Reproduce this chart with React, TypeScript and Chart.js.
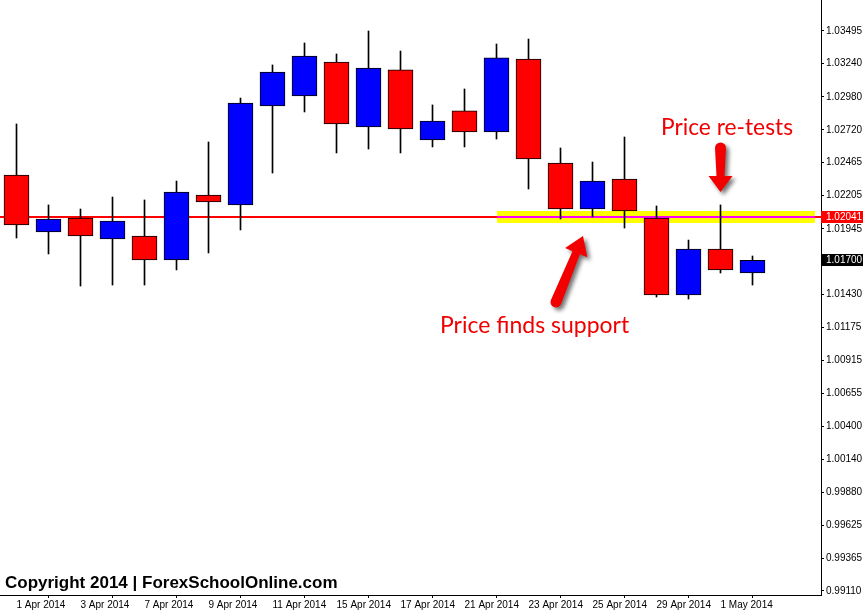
import { useEffect, useRef } from 'react';
import { Chart, registerables } from 'chart.js';

Chart.register(...registerables);

// ---- Data ----
const categories = [
  '1 Apr 2014', '2 Apr 2014', '3 Apr 2014', '4 Apr 2014', '7 Apr 2014', '8 Apr 2014',
  '9 Apr 2014', '10 Apr 2014', '11 Apr 2014', '14 Apr 2014', '15 Apr 2014', '16 Apr 2014',
  '17 Apr 2014', '18 Apr 2014', '21 Apr 2014', '22 Apr 2014', '23 Apr 2014', '24 Apr 2014',
  '25 Apr 2014', '28 Apr 2014', '29 Apr 2014', '30 Apr 2014', '1 May 2014', '2 May 2014',
];
const openPrices = [
  1.02367, 1.01921, 1.02031, 1.01866, 1.01890, 1.01702, 1.02211, 1.02133, 1.02908, 1.02986,
  1.03252, 1.02743, 1.03190, 1.02642, 1.02869, 1.02704, 1.03276, 1.02461, 1.02101, 1.02336,
  1.02031, 1.01428, 1.01788, 1.01600,
];
const highPrices = [
  1.02767, 1.02133, 1.02101, 1.02195, 1.02172, 1.02320, 1.02626, 1.02970, 1.03229, 1.03401,
  1.03315, 1.03495, 1.03338, 1.02916, 1.03041, 1.03393, 1.03432, 1.02579, 1.02469, 1.02665,
  1.02125, 1.01858, 1.02133, 1.01733,
];
const lowPrices = [
  1.01874, 1.01749, 1.01498, 1.01506, 1.01506, 1.01624, 1.01757, 1.01937, 1.02383, 1.02861,
  1.02540, 1.02571, 1.02540, 1.02587, 1.02587, 1.02649, 1.02258, 1.02023, 1.02039, 1.01952,
  1.01412, 1.01396, 1.01600, 1.01506,
];
const closePrices = [
  1.01976, 1.02023, 1.01890, 1.02007, 1.01702, 1.02234, 1.02156, 1.02931, 1.03174, 1.03299,
  1.02767, 1.03205, 1.02728, 1.02790, 1.02704, 1.03284, 1.02493, 1.02101, 1.02320, 1.02086,
  1.01428, 1.01788, 1.01624, 1.01700,
];
const yTickValues = [
  1.03495, 1.0324, 1.0298, 1.0272, 1.02465, 1.02205, 1.01945, 1.0143, 1.01175, 1.00915,
  1.00655, 1.004, 1.0014, 0.9988, 0.99625, 0.99365, 0.9911,
];
const xTickIndices = [0, 2, 4, 6, 8, 10, 12, 14, 16, 18, 20, 22];
const supportLevel = 1.02041;
const supportBand = [1.01992, 1.02086];
const bandStartIndex = 15;
const lastPrice = 1.017;
const yMin = 0.990786;
const yMax = 1.037377;
const xMin = -0.515625;
const xMax = -0.515625 + 821 / 32;

const annotationTop = 'Price re-tests';
const annotationBottom = 'Price finds support';
const copyrightText = 'Copyright 2014 | ForexSchoolOnline.com';

const BULL = '#0000ff';
const BEAR = '#ff0000';
const AXIS_FONT = { family: "'Liberation Sans', Arial, sans-serif", size: 10 };

function drawArrow(
  ctx: CanvasRenderingContext2D,
  tx: number, ty: number, hx: number, hy: number,
  w1: number, w2: number, hw: number, hl: number,
) {
  const dx = hx - tx;
  const dy = hy - ty;
  const len = Math.hypot(dx, dy);
  const ux = dx / len;
  const uy = dy / len;
  const nx = -uy;
  const ny = ux;
  const bx = hx - ux * hl;
  const by = hy - uy * hl;
  const angN = Math.atan2(ny, nx);
  ctx.beginPath();
  ctx.moveTo(tx + nx * w1 / 2, ty + ny * w1 / 2);
  ctx.lineTo(bx + nx * w2 / 2, by + ny * w2 / 2);
  ctx.lineTo(bx + nx * hw / 2, by + ny * hw / 2);
  ctx.lineTo(hx, hy);
  ctx.lineTo(bx - nx * hw / 2, by - ny * hw / 2);
  ctx.lineTo(bx - nx * w2 / 2, by - ny * w2 / 2);
  ctx.lineTo(tx - nx * w1 / 2, ty - ny * w1 / 2);
  ctx.arc(tx, ty, w1 / 2, angN + Math.PI, angN, true);
  ctx.closePath();
  ctx.fill();
}

const overlayPlugin = {
  id: 'overlay',
  beforeDatasetsDraw(chart: any) {
    const { ctx, chartArea, scales } = chart;
    const x = scales.x;
    const y = scales.y;
    const yLine = Math.round(y.getPixelForValue(supportLevel));
    const bandX = Math.round(x.getPixelForValue(bandStartIndex));
    const bandEnd = chartArea.right - 6;
    const bTop = Math.round(y.getPixelForValue(supportBand[1]));
    const bBot = Math.round(y.getPixelForValue(supportBand[0]));
    ctx.save();
    ctx.fillStyle = '#ffff00';
    ctx.fillRect(bandX, bTop, bandEnd - bandX, bBot - bTop);
    ctx.fillStyle = '#ff0000';
    ctx.fillRect(chartArea.left, yLine - 1, bandX - chartArea.left, 2);
    ctx.fillRect(bandEnd, yLine - 1, chartArea.right - bandEnd, 2);
    ctx.fillStyle = '#ff00ff';
    ctx.fillRect(bandX, yLine - 1, bandEnd - bandX, 2);
    ctx.restore();
  },
  afterDraw(chart: any) {
    const { ctx, chartArea, scales } = chart;
    const x = scales.x;
    const y = scales.y;
    ctx.save();
    // price labels on the axis
    const fontStr = `${AXIS_FONT.size}px ${AXIS_FONT.family}`;
    ctx.font = fontStr;
    ctx.textBaseline = 'middle';
    ctx.textAlign = 'left';
    const labels: [number, string][] = [
      [supportLevel, '#ff0000'],
      [lastPrice, '#000000'],
    ];
    for (const [v, bg] of labels) {
      const py = Math.round(y.getPixelForValue(v));
      ctx.fillStyle = bg;
      ctx.fillRect(chartArea.right, py - 6, 42, 12);
      ctx.fillStyle = '#ffffff';
      ctx.fillText(v.toFixed(5), chartArea.right + 5, py + 0.5);
    }

    // arrows
    ctx.fillStyle = '#f20000';
    ctx.shadowColor = 'rgba(0,0,0,0.55)';
    ctx.shadowBlur = 4;
    ctx.shadowOffsetX = 3;
    ctx.shadowOffsetY = 3;
    const ax = x.getPixelForValue(22);
    drawArrow(ctx, ax, 148, ax, 192, 11, 8, 24, 16);
    drawArrow(ctx, 556, 302, 583, 236, 11, 8, 24, 18);
    ctx.shadowColor = 'transparent';
    ctx.shadowBlur = 0;
    ctx.shadowOffsetX = 0;
    ctx.shadowOffsetY = 0;

    // annotation texts
    ctx.fillStyle = '#f00000';
    ctx.textBaseline = 'alphabetic';
    ctx.font = "23px Lato, 'Liberation Sans', sans-serif";
    ctx.fillText(annotationTop, 661, 135, 132);
    ctx.fillText(annotationBottom, 440, 333, 191);

    // copyright
    ctx.fillStyle = '#000000';
    ctx.font = "bold 17px 'Liberation Sans', Arial, sans-serif";
    ctx.fillText(copyrightText, 5, 588, 334);
    ctx.restore();
  },
};

export default function App() {
  const canvasRef = useRef<HTMLCanvasElement | null>(null);

  useEffect(() => {
    const canvas = canvasRef.current;
    if (!canvas) return;
    const bodies = categories.map((_, i) => ({ x: i, y: [openPrices[i], closePrices[i]] }));
    const wicks = categories.map((_, i) => ({ x: i, y: [lowPrices[i], highPrices[i]] }));
    const bodyColors = categories.map((_, i) => (closePrices[i] >= openPrices[i] ? BULL : BEAR));

    const chart = new Chart(canvas, {
      type: 'bar',
      data: {
        datasets: [
          {
            label: 'body',
            data: bodies as any,
            backgroundColor: bodyColors,
            borderColor: '#000000',
            borderWidth: 1,
            borderSkipped: false,
            barThickness: 25,
            grouped: false,
            order: 0,
          },
          {
            label: 'wick',
            data: wicks as any,
            backgroundColor: '#000000',
            borderWidth: 0,
            barThickness: 1,
            grouped: false,
            order: 1,
          },
        ],
      },
      options: {
        animation: false,
        responsive: false,
        devicePixelRatio: 1,
        layout: { padding: 0 },
        plugins: {
          legend: { display: false },
          tooltip: { enabled: false },
        },
        events: [],
        scales: {
          x: {
            type: 'linear',
            position: 'bottom',
            min: xMin,
            max: xMax,
            offset: false,
            afterBuildTicks: (scale: any) => {
              scale.ticks = xTickIndices.map((v) => ({ value: v }));
            },
            afterFit: (scale: any) => {
              scale.height = 15;
              scale.paddingLeft = 0;
              scale.paddingRight = 0;
            },
            grid: {
              display: true,
              drawOnChartArea: false,
              drawTicks: true,
              tickLength: 3,
              color: '#000000',
            },
            border: { display: true, color: '#000000', width: 1 },
            ticks: {
              autoSkip: false,
              maxRotation: 0,
              minRotation: 0,
              align: 'start',
              padding: 1,
              color: '#000000',
              font: AXIS_FONT,
              callback: (value: any) => categories[Math.round(Number(value))] ?? '',
            },
          },
          y: {
            type: 'linear',
            position: 'right',
            min: yMin,
            max: yMax,
            afterBuildTicks: (scale: any) => {
              scale.ticks = yTickValues.map((v) => ({ value: v }));
            },
            afterFit: (scale: any) => {
              scale.width = 43;
              scale.paddingTop = 0;
              scale.paddingBottom = 0;
            },
            grid: {
              display: true,
              drawOnChartArea: false,
              drawTicks: true,
              tickLength: 3,
              color: '#000000',
            },
            border: { display: true, color: '#000000', width: 1 },
            ticks: {
              padding: 2,
              color: '#000000',
              font: AXIS_FONT,
              callback: (value: any) => Number(value).toFixed(5),
            },
          },
        },
      } as any,
      plugins: [overlayPlugin],
    });
    return () => chart.destroy();
  }, []);

  return (
    <div style={{ position: 'fixed', left: 0, top: 0, width: 864, height: 610, background: '#ffffff' }}>
      <canvas ref={canvasRef} width={864} height={610} style={{ display: 'block' }} />
    </div>
  );
}
